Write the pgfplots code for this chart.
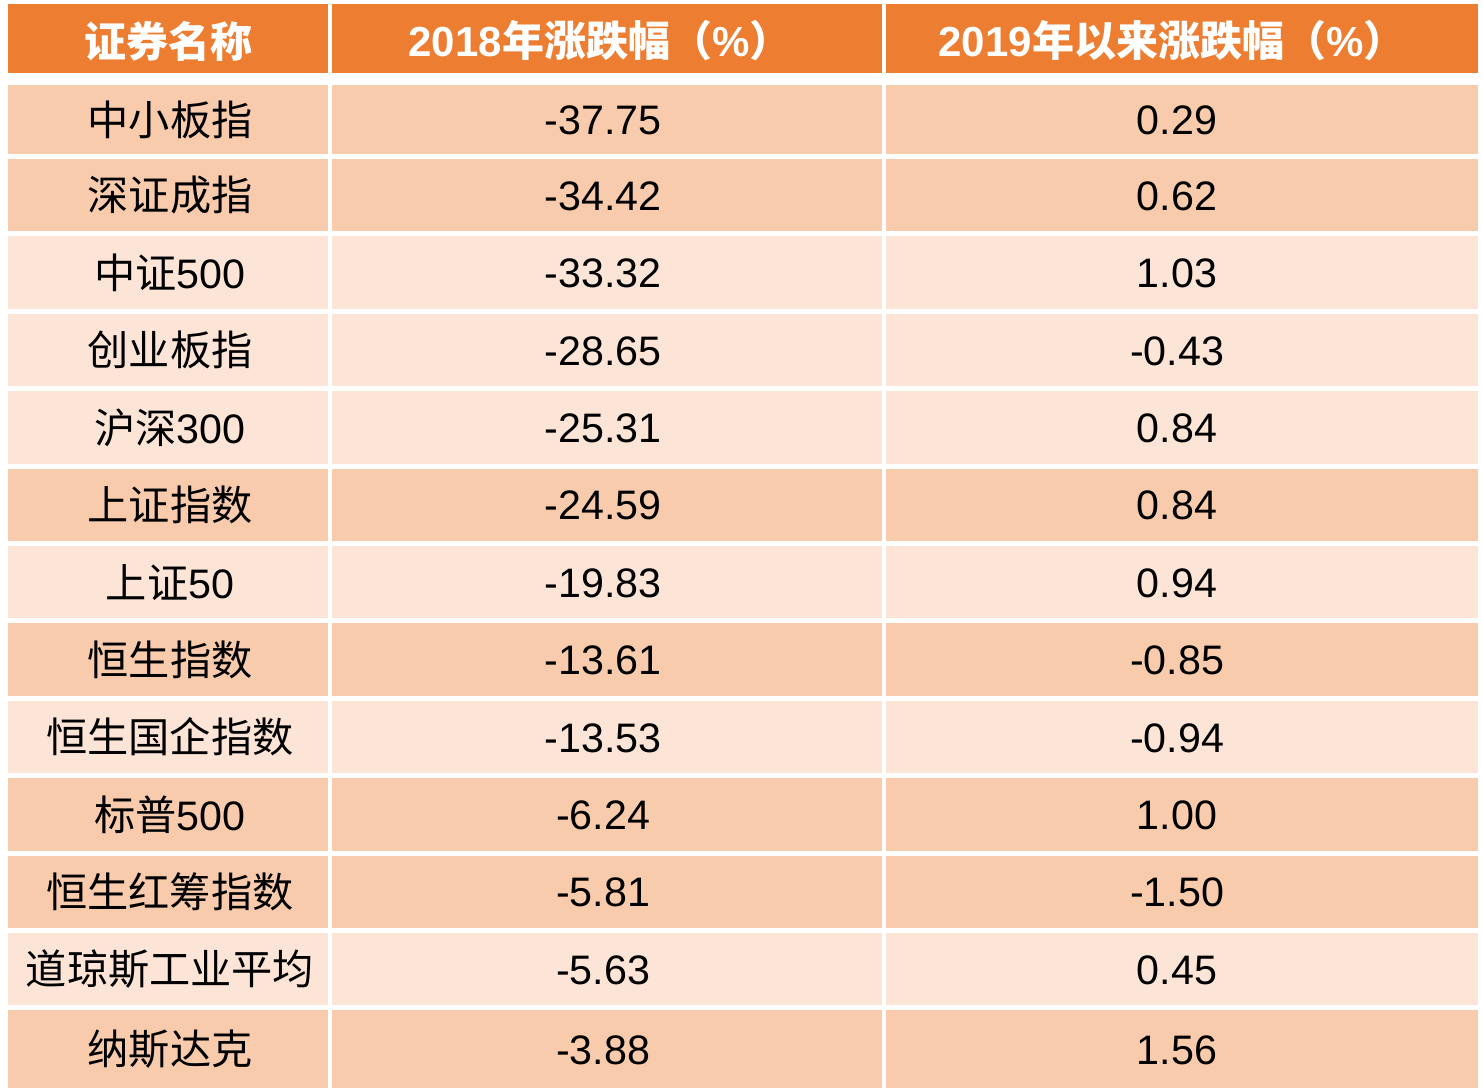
\documentclass[border=0pt]{standalone}
\usepackage{pgfplots}
\usepackage{pgfplotstable}
\pgfplotsset{compat=1.18}
\usepackage{fontspec}
\setmainfont{Liberation Sans}
\newfontfamily\cjk{Noto Sans CJK SC}
\definecolor{hdr}{HTML}{ED7D31}
\definecolor{dk}{HTML}{F8CBAD}
\definecolor{lt}{HTML}{FCE4D6}

\pgfplotstableread[col sep=comma]{
y,name,a,b
119.5,{\cjk 中小板指},-37.75,0.29
195.2,{\cjk 深证成指},-34.42,0.62
272.6,{\cjk 中证}500,-33.32,1.03
350.0,{\cjk 创业板指},-28.65,-0.43
427.4,{\cjk 沪深}300,-25.31,0.84
504.8,{\cjk 上证指数},-24.59,0.84
582.2,{\cjk 上证}50,-19.83,0.94
659.6,{\cjk 恒生指数},-13.61,-0.85
737.0,{\cjk 恒生国企指数},-13.53,-0.94
814.4,{\cjk 标普}500,-6.24,1.00
891.8,{\cjk 恒生红筹指数},-5.81,-1.50
969.2,{\cjk 道琼斯工业平均},-5.63,0.45
1049.2,{\cjk 纳斯达克},-3.88,1.56
}\tbl

\newcommand{\rowbox}[3]{\addplot[fill=#3,draw=none] coordinates {(8,#1)(1478,#1)(1478,#2)(8,#2)};}
\newcommand{\vstrip}[2]{\addplot[fill=white,draw=none] coordinates {(#1,0)(#2,0)(#2,1088)(#1,1088)};}

\begin{document}
\begin{tikzpicture}
\begin{axis}[
  width=741.5pt, height=544pt, scale only axis,
  xmin=0, xmax=1483, ymin=0, ymax=1088, y dir=reverse,
  axis line style={draw=none}, xtick=\empty, ytick=\empty,
  clip=false,
  every node near coord/.append style={anchor=center, text=black, font=\fontsize{20.6}{21}\selectfont},
]
% header
\rowbox{4}{73}{hdr}
% rows
\rowbox{85}{154}{dk}
\rowbox{159}{231.4}{dk}
\rowbox{236.4}{308.8}{lt}
\rowbox{313.8}{386.2}{lt}
\rowbox{391.2}{463.6}{lt}
\rowbox{468.6}{541}{dk}
\rowbox{546}{618.4}{lt}
\rowbox{623.4}{695.8}{dk}
\rowbox{700.8}{773.2}{lt}
\rowbox{778.2}{850.6}{dk}
\rowbox{855.6}{928}{dk}
\rowbox{933}{1005.4}{lt}
\rowbox{1010.4}{1088}{dk}
\vstrip{328}{332}
\vstrip{882}{886}
% cell texts
\addplot[draw=none, nodes near coords, point meta=explicit symbolic]
  table[x expr=170, y=y, meta=name] {\tbl};
\addplot[draw=none, nodes near coords, point meta=explicit symbolic]
  table[x expr=603, y expr=\thisrow{y}+1, meta=a] {\tbl};
\addplot[draw=none, nodes near coords, point meta=explicit symbolic]
  table[x expr=1177, y expr=\thisrow{y}+1, meta=b] {\tbl};
% header texts
\node[text=white, font=\fontsize{21}{21}\selectfont\bfseries] at (axis cs:169,41) {\cjk 证券名称};
\node[text=white, font=\fontsize{21}{21}\selectfont\bfseries] at (axis cs:600,41) {2018{\cjk 年涨跌幅（}\%{\cjk ）}};
\node[text=white, font=\fontsize{21}{21}\selectfont\bfseries] at (axis cs:1172,41) {2019{\cjk 年以来涨跌幅（}\%{\cjk ）}};
\end{axis}
\end{tikzpicture}
\end{document}
